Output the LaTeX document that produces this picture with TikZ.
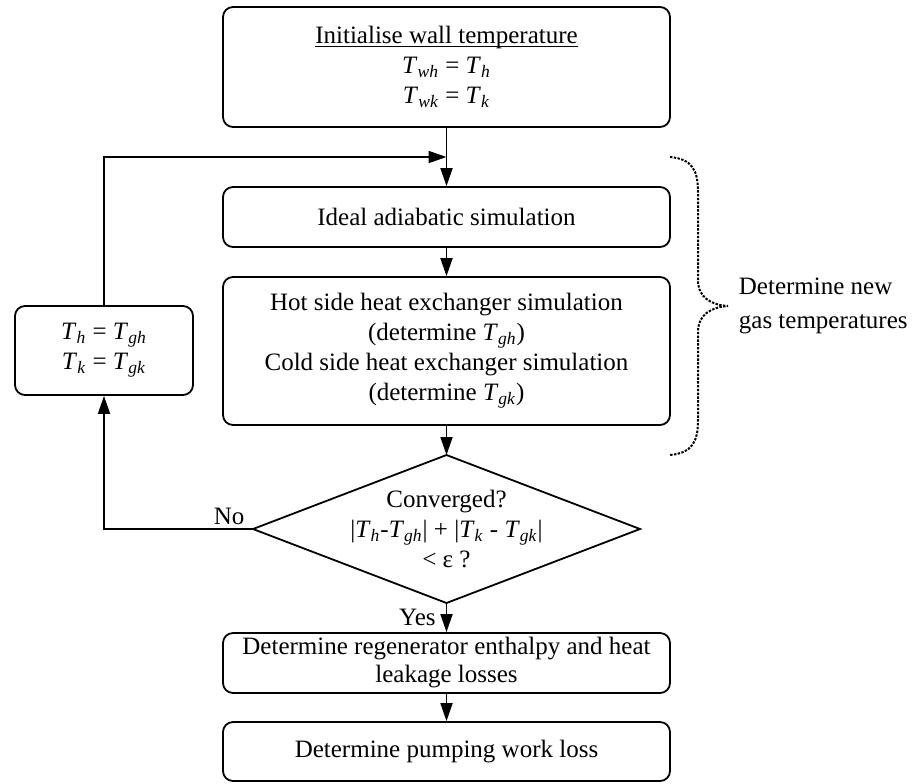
\documentclass[tikz,border=0pt]{standalone}
\usepackage{fontspec}
\setmainfont{Liberation Serif}
\usetikzlibrary{shapes.geometric,arrows.meta}

\newcommand{\tv}[1]{\textit{T}\textsubscript{\textit{#1}}}
\newcommand{\uln}[1]{\setbox0\hbox{#1}\rlap{\rule[-1.8pt]{\wd0}{0.5pt}}\box0}

\begin{document}
\begin{tikzpicture}[x=0.5pt,y=-0.5pt,line width=0.9pt]
  \tikzstyle{every node}=[font=\fontsize{12.5}{15}\selectfont]
  \tikzstyle{stepbox}=[draw,rounded corners=5pt,align=center,
    minimum width=223.5pt,inner sep=2pt]
  \tikzstyle{decision}=[draw,diamond,inner sep=0pt,outer sep=0pt,
    minimum width=193.5pt,minimum height=74pt]
  \tikzstyle{flow}=[-{Triangle[length=9pt,width=6pt]}]
  \useasboundingbox (0,0) rectangle (914,783);
  \node[stepbox,minimum height=60pt] (init) at (446.5,67)
    {\uln{Initialise wall temperature}\\
     \tv{wh} = \tv{h}\\
     \tv{wk} = \tv{k}};
  \node[stepbox,minimum height=30pt] (ideal) at (446.5,217)
    {Ideal adiabatic simulation};
  \node[stepbox,minimum height=74pt] (hex) at (446.5,351)
    {Hot side heat exchanger simulation\\
     (determine \tv{gh})\\
     Cold side heat exchanger simulation\\
     (determine \tv{gk})};
  \node[decision] (conv) at (446.5,529) {};
  \node[align=center,inner sep=0pt] (convtext) at (conv)
    {Converged?\\
     |\tv{h}-\tv{gh}| + |\tv{k} - \tv{gk}|\\
     < ε ?};
  \node[stepbox,minimum height=44.5pt,minimum width=89pt] (update) at (104,350.5)
    {\tv{h} = \tv{gh}\\
     \tv{k} = \tv{gk}};
  \node[stepbox,minimum height=30pt,inner sep=1pt,
    font=\fontsize{12.5}{14}\selectfont] (regen) at (446.5,663)
    {Determine regenerator enthalpy and heat\\
     leakage losses};
  \node[stepbox,minimum height=29.5pt] (pump) at (446.5,751.5)
    {Determine pumping work loss};
  \coordinate (join) at (446.5,157);

  \draw[flow] (init) -- (ideal);
  \draw[flow] (ideal) -- (hex);
  \draw[flow] (hex) -- (conv);
  \draw[flow] (conv.south) -- node[left,inner sep=5pt] {Yes} (regen);
  \draw[flow] (regen) -- (pump);
  \draw[flow] (conv.west) -| node[pos=0.08,above,inner sep=1.5pt] {No} (update.south);
  \draw[flow] (update.north) |- (join);

  % dotted brace
  \coordinate (bracetop) at (670,157);
  \coordinate (bracetip) at (728,306);
  \coordinate (bracebot) at (670,455);
  \draw[line width=1pt,dash pattern=on 1.2pt off 0.7pt] (bracetop)
    .. controls (692,159) and (698,170) .. (698,192) -- (698,280)
    .. controls (698,298) and (712,305) .. (bracetip)
    .. controls (712,307) and (698,314) .. (698,332) -- (698,420)
    .. controls (698,442) and (692,453) .. (bracebot);
  \node[anchor=west,align=left,inner sep=0pt,xshift=5pt,
    font=\fontsize{12.5}{17}\selectfont] (gaslabel) at (bracetip)
    {Determine new\\gas temperatures};
\end{tikzpicture}
\end{document}
